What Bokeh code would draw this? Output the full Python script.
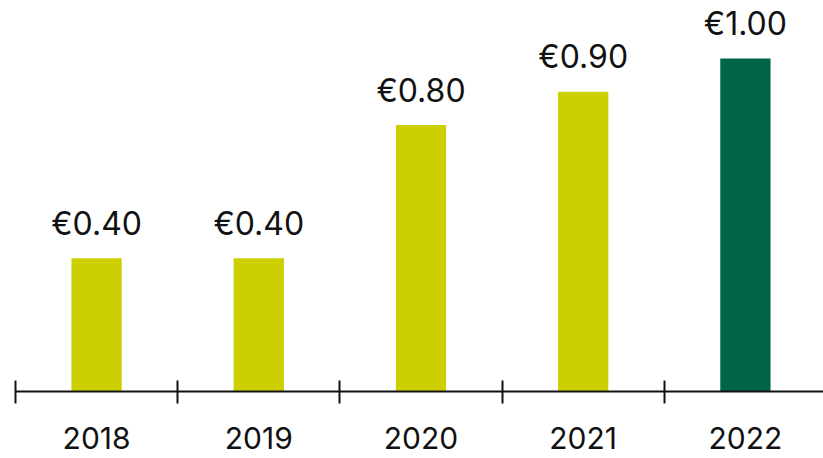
from bokeh.plotting import figure
from bokeh.models import ColumnDataSource, FixedTicker, Range1d
from bokeh.core.properties import value
from bokeh.embed import file_html
from bokeh.resources import INLINE

years = ["2018", "2019", "2020", "2021", "2022"]
dividends = [0.40, 0.40, 0.80, 0.90, 1.00]
labels = ["€0.40", "€0.40", "€0.80", "€0.90", "€1.00"]
colors = ["#CCD000", "#CCD000", "#CCD000", "#CCD000", "#006446"]

xpos = [i + 0.5 for i in range(len(years))]
src = ColumnDataSource(dict(x=xpos, top=dividends, label=labels, color=colors))

FONT = "Inter"

p = figure(width=823, height=458, output_backend="svg", toolbar_location=None,
           x_range=Range1d(0, 808 / 162.2), y_range=Range1d(0, 383 / 333.0),
           min_border_left=15, min_border_right=0, min_border_top=8, min_border_bottom=67)
p.outline_line_color = None
p.xgrid.visible = False
p.ygrid.visible = False
p.yaxis.visible = False

p.vbar(x="x", top="top", width=0.31, bottom=0, color="color", line_color=None, source=src)
p.text(x="x", y="top", text="label", source=src, text_align="center",
       text_baseline="alphabetic", y_offset=-35, text_font=value(FONT),
       text_font_size="32px", text_color="#111111")

ax = p.xaxis[0]
ax.ticker = FixedTicker(ticks=xpos, minor_ticks=[0, 1, 2, 3, 4, 5])
ax.major_label_overrides = {x: y for x, y in zip(xpos, years)}
ax.major_tick_in = 0
ax.major_tick_out = 0
ax.minor_tick_in = 11
ax.minor_tick_out = 12
ax.minor_tick_line_width = 2
ax.minor_tick_line_color = "#111111"
ax.axis_line_width = 2
ax.axis_line_color = "#111111"
ax.major_label_text_font = FONT
ax.major_label_text_font_size = "30px"
ax.major_label_text_color = "#111111"
ax.major_label_standoff = 23

open("out.html", "w").write(file_html(p, INLINE))
